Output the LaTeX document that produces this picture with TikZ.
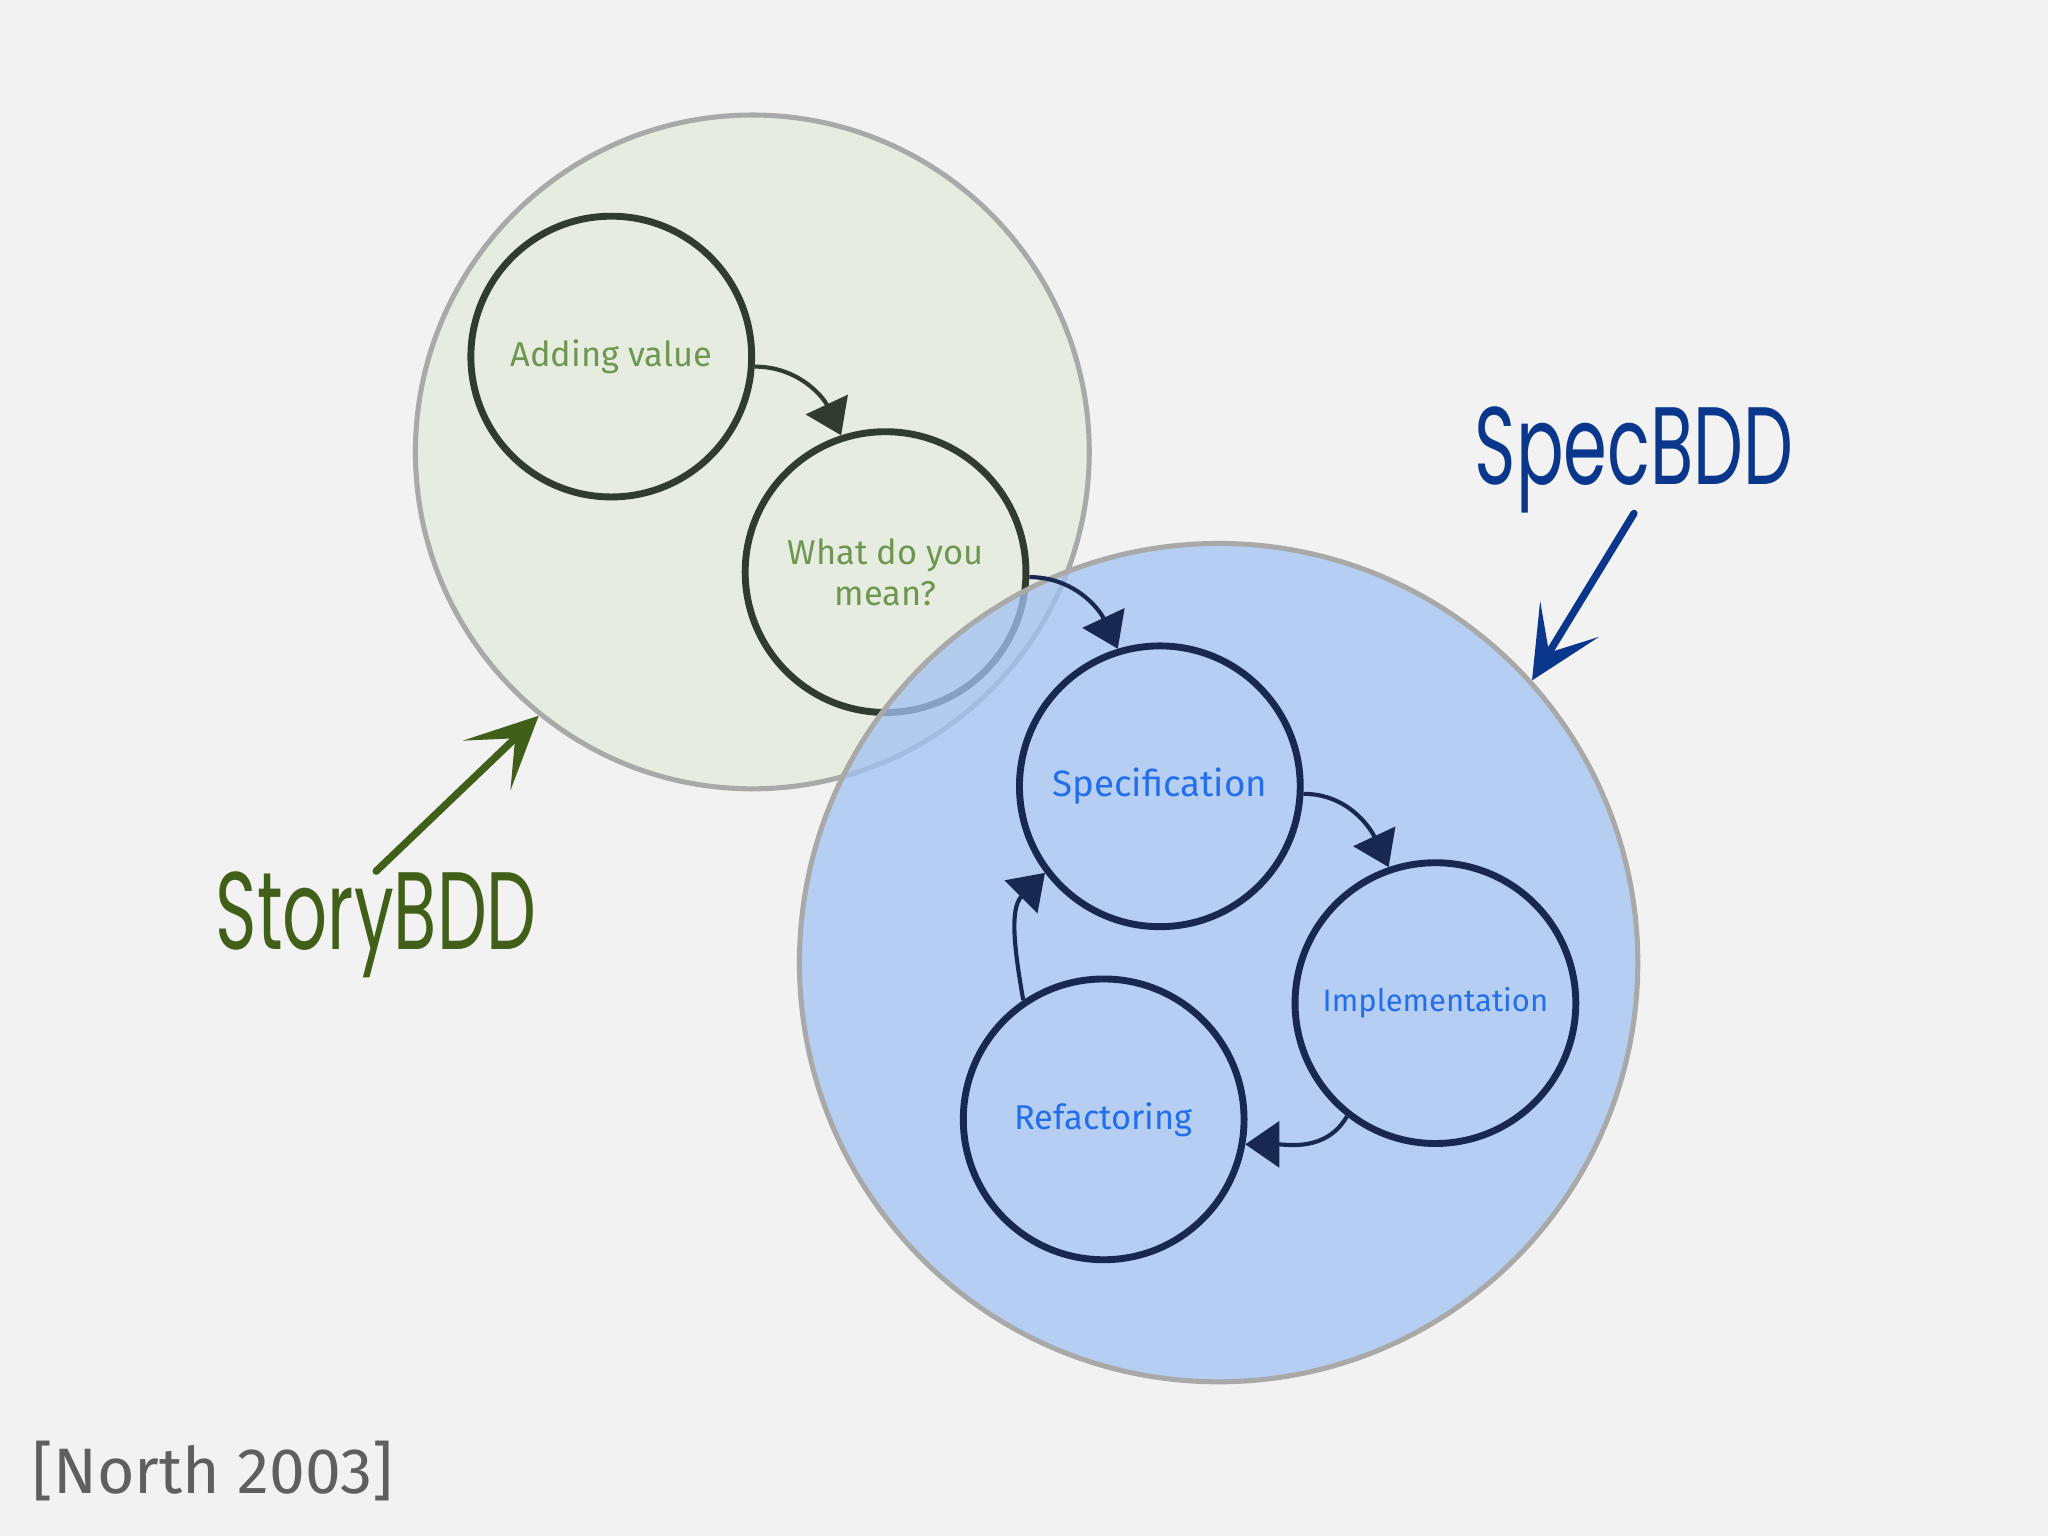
\documentclass[tikz,border=0pt]{standalone}
\usepackage{fontspec}
\setmainfont{Fira Sans}
\newfontfamily\handfont[FakeStretch=0.64]{Poppins}
\usetikzlibrary{arrows.meta}

\definecolor{paper}{HTML}{F2F2F2}
\definecolor{zoneline}{HTML}{A9A9A9}
\definecolor{storyfill}{HTML}{E6EDE0}
\definecolor{specfill}{HTML}{A3C2F3}
\definecolor{storyline}{HTML}{323B30}
\definecolor{specline}{HTML}{192850}
\definecolor{storytext}{HTML}{6E9650}
\definecolor{spectext}{HTML}{236EEB}
\definecolor{storyhand}{HTML}{415F19}
\definecolor{spechand}{HTML}{0A378C}
\definecolor{citetext}{HTML}{5F5F5F}

\tikzset{
  zone/.style={circle, draw=zoneline, line width=2.2pt, inner sep=0pt, minimum size=#1},
  greenring/.style={circle, draw=storyline, line width=3pt, inner sep=0pt, minimum size=4.3cm,
    align=center, text=storytext, font=\fontsize{15}{18}\selectfont},
  bluering/.style={circle, draw=specline, line width=3pt, inner sep=0pt, minimum size=4.3cm,
    align=center, text=spectext, font=\fontsize{15}{18}\selectfont},
  greenflow/.style={draw=storyline, line width=1.8pt, -{Triangle[length=0.52cm,width=0.7cm]}},
  blueflow/.style={draw=specline, line width=1.8pt, -{Triangle[length=0.52cm,width=0.7cm]}},
  handarrow/.style={line width=3.2pt, line cap=round, -{Stealth[length=1.1cm,width=1.05cm,inset=0.6cm]}}
}

\begin{document}
\begin{tikzpicture}[x=0.02cm,y=0.02cm]  % one unit is one pixel of the slide
    % Slide
    \fill[paper] (0,0) rectangle (1568,-1176);  % background and bounding box

    % StoryBDD zone
    \node[zone=10.32cm, fill=storyfill] (storyzone) at (576,-346) {};  % big green circle
    \node[greenring] (adding) at (468,-273) {Adding value};  % first story step
    \node[greenring] (what) at (678,-438) {What do you\\mean?};  % second story step
    \draw[greenflow] (adding.-4) to[out=0,in=115] (what.108);  % adding -> what

    % SpecBDD zone
    \node[zone=12.84cm, fill=specfill, fill opacity=0.75] (speczone) at (933,-737) {};  % big blue circle
    \node[bluering, font=\fontsize{16}{18}\selectfont] (specification) at (888,-602) {Specification};  % spec step
    \node[bluering, font=\fontsize{13.5}{16}\selectfont] (impl) at (1099,-768) {Implementation};  % implementation step
    \node[bluering] (refac) at (845,-857) {Refactoring};  % refactoring step

    % Connections
    \draw[blueflow] (what.-2) to[out=0,in=115] (specification.107);  % what -> specification
    \draw[blueflow] (specification.-3) to[out=0,in=115] (impl.109);  % specification -> implementation
    \draw[blueflow] (impl.-128) to[out=-120,in=0] (refac.-10);  % implementation -> refactoring
    \draw[blueflow] (refac.124) to[out=100,in=-135] (specification.-143);  % refactoring -> specification

    % Labels
    \node[inner sep=0pt, text=storyhand, font=\handfont\fontsize{48}{48}\selectfont] (storylabel) at (288,-708) {StoryBDD};
    \node[inner sep=0pt, text=spechand, font=\handfont\fontsize{48}{48}\selectfont] (speclabel) at (1251,-352) {SpecBDD};
    \draw[handarrow, storyhand] (storylabel.north) -- (storyzone.231);  % label -> green zone
    \draw[handarrow, spechand] (speclabel.south) -- (speczone.42);  % label -> blue zone

    % Source
    \node[text=citetext, font=\fontsize{28}{30}\selectfont] (north) at (163,-1126) {[North 2003]};
\end{tikzpicture}
\end{document}
